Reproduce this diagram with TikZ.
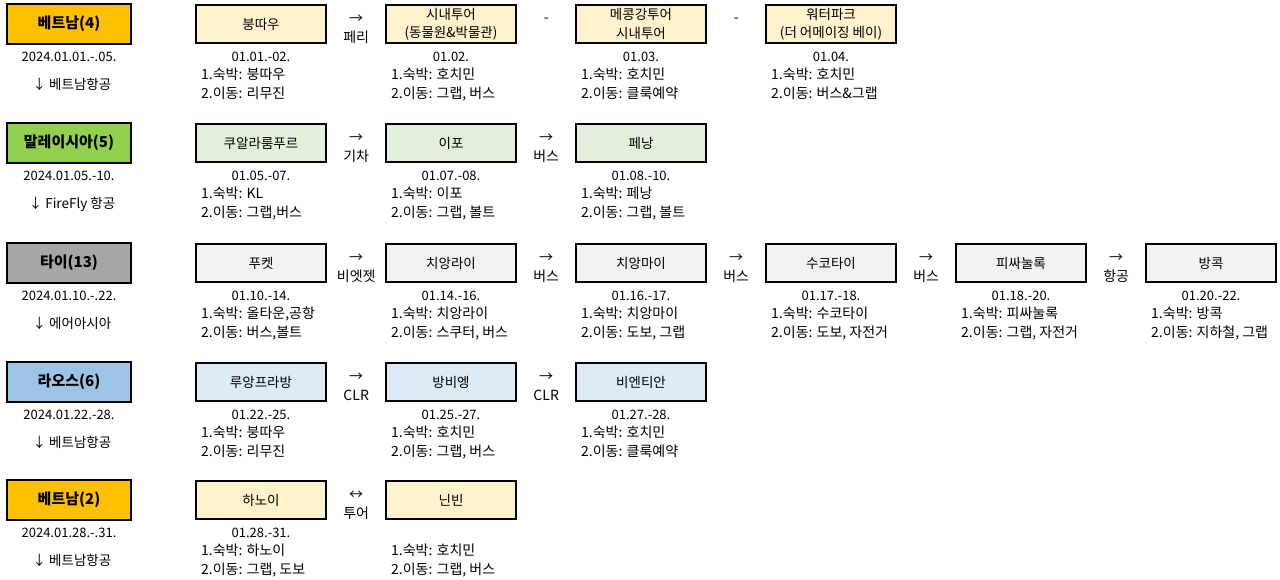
\documentclass[tikz,border=0pt]{standalone}
\usepackage{fontspec}
\setmainfont{Noto Sans CJK KR}
\usepackage{xcolor}
\usetikzlibrary{positioning}

\definecolor{vnorange}{HTML}{FFC000}
\definecolor{vnlight}{HTML}{FFF2CC}
\definecolor{mygreen}{HTML}{92D050}
\definecolor{mylight}{HTML}{E2EFDA}
\definecolor{thgray}{HTML}{A6A6A6}
\definecolor{thlight}{HTML}{F2F2F2}
\definecolor{lablue}{HTML}{9DC3E6}
\definecolor{lalight}{HTML}{DDEBF7}

\begin{document}
\begin{tikzpicture}[
			x=1pt,y=-1pt,
			country/.style={
				draw,
				line width=2.4pt,
				inner sep=0pt,
				outer sep=0pt,
				font=\fontsize{15}{18}\selectfont\bfseries,
				minimum width=124pt,
				minimum height=40pt
			},
			spot/.style={
				draw,
				line width=2.4pt,
				inner sep=0pt,
				outer sep=0pt,
				align=center,
				font=\fontsize{13.5}{18.5}\selectfont,
				minimum width=130pt,
				minimum height=38pt
			},
			hop/.style={
				inner sep=0pt,
				align=center,
				font=\fontsize{14}{19}\selectfont,
				minimum width=60pt,
				yshift=-5pt
			},
			daytext/.style={inner sep=0pt,font=\fontsize{13}{15}\selectfont},
			flytext/.style={inner sep=0pt,font=\fontsize{13.5}{16}\selectfont},
			info/.style={inner sep=0pt,align=left,font=\fontsize{14}{19}\selectfont}
			]
			\useasboundingbox (0,0) rectangle (1280,580);
			
			% Vietnam (4)
			\node[country,fill=vnorange] (vn4) at (69,24) {베트남(4)};
			\node[daytext,below=8pt of vn4] (vn4date) {2024.01.01.-.05.};
			\node[flytext,below=16pt of vn4date,xshift=3pt] (vn4fly) {↓ 베트남항공};
			
			\node[spot,fill=vnlight] (vungtau) at (261,24) {붕따우};
			\node[daytext,below=9pt of vungtau] (vungtaudate) {01.01.-02.};
			\node[info,below right=25pt and 5pt of vungtau.south west] (vungtauinfo) {1.숙박: 붕따우\\2.이동: 리무진};
			\node[hop,right=0pt of vungtau] (ferry) {→\\페리};
			
			\node[spot,fill=vnlight,right=60pt of vungtau] (hcmtour) {시내투어\\(동물원\&박물관)};
			\node[daytext,below=9pt of hcmtour] (hcmtourdate) {01.02.};
			\node[info,below right=25pt and 5pt of hcmtour.south west] (hcmtourinfo) {1.숙박: 호치민\\2.이동: 그랩, 버스};
			\node[hop,right=0pt of hcmtour,yshift=9pt] (dashone) {-};
			
			\node[spot,fill=vnlight,right=60pt of hcmtour] (mekong) {메콩강투어\\시내투어};
			\node[daytext,below=9pt of mekong] (mekongdate) {01.03.};
			\node[info,below right=25pt and 5pt of mekong.south west] (mekonginfo) {1.숙박: 호치민\\2.이동: 클룩예약};
			\node[hop,right=0pt of mekong,yshift=9pt] (dashtwo) {-};
			
			\node[spot,fill=vnlight,right=60pt of mekong] (waterpark) {워터파크\\(더 어메이징 베이)};
			\node[daytext,below=9pt of waterpark] (waterparkdate) {01.04.};
			\node[info,below right=25pt and 5pt of waterpark.south west] (waterparkinfo) {1.숙박: 호치민\\2.이동: 버스\&그랩};
			
			% Malaysia (5)
			\node[country,fill=mygreen] (my5) at (69,143) {말레이시아(5)};
			\node[daytext,below=8pt of my5] (my5date) {2024.01.05.-10.};
			\node[flytext,below=16pt of my5date,xshift=3pt] (my5fly) {↓ FireFly 항공};
			
			\node[spot,fill=mylight] (kl) at (261,143) {쿠알라룸푸르};
			\node[daytext,below=9pt of kl] (kldate) {01.05.-07.};
			\node[info,below right=25pt and 5pt of kl.south west] (klinfo) {1.숙박: KL\\2.이동: 그랩,버스};
			\node[hop,right=0pt of kl] (train) {→\\기차};
			
			\node[spot,fill=mylight,right=60pt of kl] (ipoh) {이포};
			\node[daytext,below=9pt of ipoh] (ipohdate) {01.07.-08.};
			\node[info,below right=25pt and 5pt of ipoh.south west] (ipohinfo) {1.숙박: 이포\\2.이동: 그랩, 볼트};
			\node[hop,right=0pt of ipoh] (busmy) {→\\버스};
			
			\node[spot,fill=mylight,right=60pt of ipoh] (penang) {페낭};
			\node[daytext,below=9pt of penang] (penangdate) {01.08.-10.};
			\node[info,below right=25pt and 5pt of penang.south west] (penanginfo) {1.숙박: 페낭\\2.이동: 그랩, 볼트};
			
			% Thailand (13)
			\node[country,fill=thgray] (th13) at (69,263) {타이(13)};
			\node[daytext,below=8pt of th13] (th13date) {2024.01.10.-.22.};
			\node[flytext,below=16pt of th13date,xshift=3pt] (th13fly) {↓ 에어아시아};
			
			\node[spot,fill=thlight] (phuket) at (261,263) {푸켓};
			\node[daytext,below=9pt of phuket] (phuketdate) {01.10.-14.};
			\node[info,below right=25pt and 5pt of phuket.south west] (phuketinfo) {1.숙박: 올타운,공항\\2.이동: 버스,볼트};
			\node[hop,right=0pt of phuket] (vietjet) {→\\비엣젯};
			
			\node[spot,fill=thlight,right=60pt of phuket] (chiangrai) {치앙라이};
			\node[daytext,below=9pt of chiangrai] (chiangraidate) {01.14.-16.};
			\node[info,below right=25pt and 5pt of chiangrai.south west] (chiangraiinfo) {1.숙박: 치앙라이\\2.이동: 스쿠터, 버스};
			\node[hop,right=0pt of chiangrai] (busone) {→\\버스};
			
			\node[spot,fill=thlight,right=60pt of chiangrai] (chiangmai) {치앙마이};
			\node[daytext,below=9pt of chiangmai] (chiangmaidate) {01.16.-17.};
			\node[info,below right=25pt and 5pt of chiangmai.south west] (chiangmaiinfo) {1.숙박: 치앙마이\\2.이동: 도보, 그랩};
			\node[hop,right=0pt of chiangmai] (bustwo) {→\\버스};
			
			\node[spot,fill=thlight,right=60pt of chiangmai] (sukhothai) {수코타이};
			\node[daytext,below=9pt of sukhothai] (sukhothaidate) {01.17.-18.};
			\node[info,below right=25pt and 5pt of sukhothai.south west] (sukhothaiinfo) {1.숙박: 수코타이\\2.이동: 도보, 자전거};
			\node[hop,right=0pt of sukhothai] (busthree) {→\\버스};
			
			\node[spot,fill=thlight,right=60pt of sukhothai] (phitsanulok) {피싸눌록};
			\node[daytext,below=9pt of phitsanulok] (phitsanulokdate) {01.18.-20.};
			\node[info,below right=25pt and 5pt of phitsanulok.south west] (phitsanulokinfo) {1.숙박: 피싸눌록\\2.이동: 그랩, 자전거};
			\node[hop,right=0pt of phitsanulok] (flight) {→\\항공};
			
			\node[spot,fill=thlight,right=60pt of phitsanulok] (bangkok) {방콕};
			\node[daytext,below=9pt of bangkok] (bangkokdate) {01.20.-22.};
			\node[info,below right=25pt and 5pt of bangkok.south west] (bangkokinfo) {1.숙박: 방콕\\2.이동: 지하철, 그랩};
			
			% Laos (6)
			\node[country,fill=lablue] (la6) at (69,382) {라오스(6)};
			\node[daytext,below=8pt of la6] (la6date) {2024.01.22.-28.};
			\node[flytext,below=16pt of la6date,xshift=3pt] (la6fly) {↓ 베트남항공};
			
			\node[spot,fill=lalight] (luang) at (261,382) {루앙프라방};
			\node[daytext,below=9pt of luang] (luangdate) {01.22.-25.};
			\node[info,below right=25pt and 5pt of luang.south west] (luanginfo) {1.숙박: 붕따우\\2.이동: 리무진};
			\node[hop,right=0pt of luang] (clrone) {→\\CLR};
			
			\node[spot,fill=lalight,right=60pt of luang] (vangvieng) {방비엥};
			\node[daytext,below=9pt of vangvieng] (vangviengdate) {01.25.-27.};
			\node[info,below right=25pt and 5pt of vangvieng.south west] (vangvienginfo) {1.숙박: 호치민\\2.이동: 그랩, 버스};
			\node[hop,right=0pt of vangvieng] (clrtwo) {→\\CLR};
			
			\node[spot,fill=lalight,right=60pt of vangvieng] (vientiane) {비엔티안};
			\node[daytext,below=9pt of vientiane] (vientianedate) {01.27.-28.};
			\node[info,below right=25pt and 5pt of vientiane.south west] (vientianeinfo) {1.숙박: 호치민\\2.이동: 클룩예약};
			
			% Vietnam (2)
			\node[country,fill=vnorange] (vn2) at (69,500) {베트남(2)};
			\node[daytext,below=8pt of vn2] (vn2date) {2024.01.28.-.31.};
			\node[flytext,below=16pt of vn2date,xshift=3pt] (vn2fly) {↓ 베트남항공};
			
			\node[spot,fill=vnlight] (hanoi) at (261,500) {하노이};
			\node[daytext,below=9pt of hanoi] (hanoidate) {01.28.-31.};
			\node[info,below right=25pt and 5pt of hanoi.south west] (hanoiinfo) {1.숙박: 하노이\\2.이동: 그랩, 도보};
			\node[hop,right=0pt of hanoi] (tour) {↔\\투어};
			
			\node[spot,fill=vnlight,right=60pt of hanoi] (ninhbinh) {닌빈};
			\node[info,below right=25pt and 5pt of ninhbinh.south west] (ninhbinhinfo) {1.숙박: 호치민\\2.이동: 그랩, 버스};
			
		\end{tikzpicture}
\end{document}
